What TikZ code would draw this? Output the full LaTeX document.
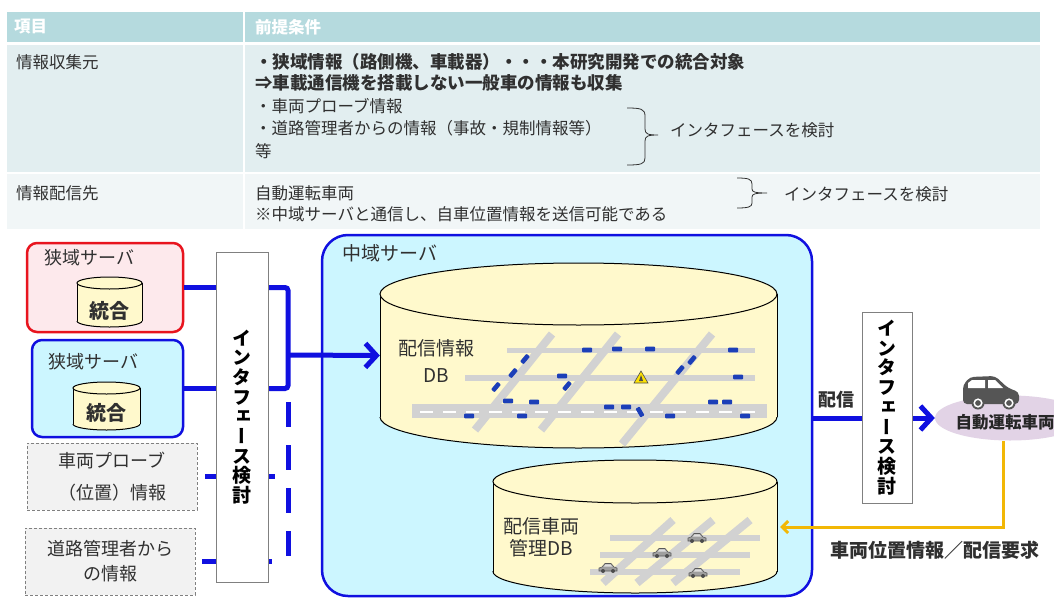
\documentclass[tikz,border=0pt]{standalone}
\usepackage{fontspec}
\setmainfont{Noto Sans CJK JP}
\newfontfamily\vjp[RawFeature=+vert]{Noto Sans CJK JP}
\usetikzlibrary{arrows.meta,shapes.geometric}

\definecolor{hdr}{HTML}{B5DADE}
\definecolor{rowa}{HTML}{E2EEF0}
\definecolor{rowb}{HTML}{F1F6F7}
\definecolor{txt}{HTML}{303030}
\definecolor{pinkfill}{HTML}{FDE9EC}
\definecolor{redline}{HTML}{E8141E}
\definecolor{cyanfill}{HTML}{CCF6FF}
\definecolor{blueline}{HTML}{1010E0}
\definecolor{dbfill}{HTML}{FFF9CC}
\definecolor{grayfill}{HTML}{F2F2F2}
\definecolor{road}{HTML}{D2D2D2}
\definecolor{carblue}{HTML}{1C3FB8}
\definecolor{gold}{HTML}{F2B705}
\definecolor{lav}{HTML}{E2D3E6}
\definecolor{cardark}{HTML}{555555}

\newcommand\fsA{\fontsize{16.5}{20}\selectfont}
\newcommand\fsB{\fontsize{17.5}{20}\selectfont}
\newcommand\fsC{\fontsize{18}{21}\selectfont}

% database cylinder: centre x, x radius, top y, bottom y, end radius
\newcommand\dbcyl[5]{%
  \fill[dbfill] (#1-#2,#3+#5) rectangle (#1+#2,#4-#5);
  \fill[dbfill] (#1,#4-#5) ellipse (#2 and #5);
  \begin{scope}
    \clip (#1-#2-3,#4-#5) rectangle (#1+#2+3,#4+3);
    \draw[line width=1] (#1,#4-#5) ellipse (#2 and #5);
  \end{scope}
  \draw[line width=1] (#1-#2,#3+#5) -- (#1-#2,#4-#5) (#1+#2,#3+#5) -- (#1+#2,#4-#5);
  \filldraw[fill=dbfill, line width=1] (#1,#3+#5) ellipse (#2 and #5);}

\tikzset{
  cell/.style={text=txt, anchor=west, inner sep=0, font=\fsA},
  hcell/.style={text=white, anchor=west, inner sep=0, font=\bfseries\fsA},
  srv/.style={rounded corners=10, line width=2.5, inner sep=0},
  lab/.style={text=txt, anchor=west, inner sep=0, font=\fsC},
  dbox/.style={draw=gray, fill=grayfill, dash pattern=on 3pt off 2pt, line width=0.8,
    inner sep=0, align=center, text=txt},
  ifbox/.style={draw=gray, fill=white, line width=0.8, inner sep=0, align=center,
    font=\vjp\bfseries\fontsize{19}{19.7}\selectfont},
  bl/.style={draw=blueline, line width=5},
  brk/.style={draw=txt, line width=0.8},
  bluecar/.pic={\fill[carblue, rounded corners=0.8] (-5,-2.3) rectangle (5,2.3);},
  minicar/.pic={
    \filldraw[fill=gray!75, draw=black!65, line width=0.6]
      (-9,3) -- (-9,0) -- (-6,-1) -- (-3,-4.5) -- (3,-4.5) -- (6,-1) -- (9,0) -- (9,3) -- cycle;
    \fill[white!75!gray] (-2.5,-3.6) -- (2.5,-3.6) -- (4.5,-1.3) -- (-4.5,-1.3) -- cycle;
    \fill[black!70] (-5,3) circle (2) (5,3) circle (2);
  },
}

\begin{document}
\begin{tikzpicture}[x=1pt,y=-1pt]
\useasboundingbox (0,0) rectangle (1054,597);
\fill[white] (0,0) rectangle (1054,597);

% ---------- conditions table ----------
\fill[hdr]  (7,12)   rectangle (243,42);
\fill[hdr]  (245,12) rectangle (1040,42);
\fill[rowa] (7,45)   rectangle (243,172);
\fill[rowa] (245,45) rectangle (1040,172);
\fill[rowb] (7,174)  rectangle (243,229);
\fill[rowb] (245,174) rectangle (1040,229);

\node[hcell] (h1) at (14,27)  {項目};
\node[hcell] (h2) at (255,27) {前提条件};

\node[cell] (r1a) at (16,62) {情報収集元};
\node[cell, font=\bfseries\fsB] (r1b) at (255,62) {・狭域情報（路側機、車載器）・・・本研究開発での統合対象};
\node[cell, font=\bfseries\fsB] (r1c) at (255,83) {⇒車載通信機を搭載しない一般車の情報も収集};
\node[cell] (r1d) at (255,106) {・車両プローブ情報};
\node[cell] (r1e) at (255,128) {・道路管理者からの情報（事故・規制情報等）};
\node[cell] (r1f) at (255,151) {等};
\node[cell] (r1g) at (670,130) {インタフェースを検討};

\node[cell] (r2a) at (16,193) {情報配信先};
\node[cell] (r2b) at (255,193) {自動運転車両};
\node[cell] (r2c) at (255,214) {※中域サーバと通信し、自車位置情報を送信可能である};
\node[cell] (r2d) at (784,194) {インタフェースを検討};

% curly brackets
\draw[brk] (627,108) .. controls (641,108) and (645,109) .. (645,116) -- (645,129)
  .. controls (645,134) and (648,135) .. (658,135)
  .. controls (648,135) and (645,136) .. (645,141) -- (645,158)
  .. controls (645,164) and (641,165) .. (627,165);
\draw[brk] (737,178) .. controls (748,178) and (752,179) .. (752,184) -- (752,189)
  .. controls (752,192) and (755,193) .. (767,193)
  .. controls (755,193) and (752,194) .. (752,197) -- (752,203)
  .. controls (752,207) and (748,208) .. (737,208);

% ---------- regional server ----------
\node[draw=blueline, fill=cyanfill, line width=2.5, rounded corners=26,
  minimum width=490, minimum height=361, inner sep=0] (srvM) at (567,415.5) {};
\node[lab, font=\fontsize{19}{21}\selectfont] (srvMlab) at (342,253) {中域サーバ};

% distribution information DB
\dbcyl{578.5}{198.5}{263}{448}{31}
\node[inner sep=0, minimum width=397, minimum height=185] (db1) at (578.5,355.5) {};
\node[text=txt, align=center, inner sep=0, font=\fontsize{19}{27}\selectfont] (db1lab) at (436,361.5) {配信情報\\DB};

% road map
\draw[road, line width=5] (507,350) -- (755,350);
\draw[road, line width=6] (465,378) -- (755,378);
\draw[road, line width=8] (552,334) -- (475,430);
\draw[road, line width=8] (618,334) -- (541,430);
\draw[road, line width=8] (712,334) -- (622,444);
\draw[road, line width=14] (412,411) -- (767,411);
\draw[white, line width=2, dash pattern=on 13pt off 10pt] (420,412) -- (765,412);
\foreach \x/\y in {587/350,617/349,650/349,733/350,562/376,738/377,
    508/401,534/402,609/407,626/407,713/402,727/402,469/416,522/416,670/416,745/416}
  \pic at (\x,\y) {bluecar};
\foreach \x/\y in {525/359,513/373,496/387,567/386,680/370,692/360}
  \pic[rotate=50] at (\x,\y) {bluecar};
\pic[rotate=-60] at (640,412) {bluecar};
\filldraw[fill=yellow!85!orange, draw=black!70, line width=0.6] (641,371) -- (648,383) -- (634,383) -- cycle;
\fill[black!70] (641,375) -- (643,381) -- (639,381) -- cycle;

% vehicle management DB
\dbcyl{635}{142}{460}{593}{21.5}
\node[text=txt, align=center, inner sep=0, font=\fontsize{19}{21.5}\selectfont] (db2lab) at (541,537.5) {配信車両\\管理DB};
\draw[road, line width=6.5] (610,538) -- (760,538);
\draw[road, line width=6.5] (600,555) -- (750,555);
\draw[road, line width=6.5] (590,572) -- (740,572);
\draw[road, line width=8] (673,520) -- (603,583);
\draw[road, line width=8] (713,520) -- (637,583);
\draw[road, line width=8] (750,520) -- (673,583);
\foreach \x/\y in {697/538,662/553,608/568,698/573}
  \pic at (\x,\y) {minicar};

% ---------- local servers and other sources ----------
\node[srv, draw=redline, fill=pinkfill, minimum width=156, minimum height=89] (srvA) at (105,287.5) {};
\node[lab] (srvAlab) at (44,258) {狭域サーバ};
\dbcyl{109.5}{32.5}{277}{327}{6}
\node[text=txt, inner sep=0, font=\bfseries\fontsize{20}{22}\selectfont] (cylA) at (109.5,311) {統合};

\node[srv, draw=blueline, fill=cyanfill, minimum width=151, minimum height=97] (srvB) at (107.5,388.5) {};
\node[lab] (srvBlab) at (48,362) {狭域サーバ};
\dbcyl{106.5}{33.5}{382}{430}{6}
\node[text=txt, inner sep=0, font=\bfseries\fontsize{20}{22}\selectfont] (cylB) at (106.5,413) {統合};

\node[dbox, minimum width=170, minimum height=67, font=\fontsize{18}{32}\selectfont] (probe) at (112,476.5) {車両プローブ\\（位置）情報};
\node[dbox, minimum width=170, minimum height=67, font=\fontsize{18}{25}\selectfont] (roadm) at (110,561.5) {道路管理者から\\の情報};

% ---------- connectors ----------
\coordinate (jn) at (288,355);
\draw[bl] (srvA.east) -- (srvA.east -| 230,0);
\draw[bl] (srvB.east) -- (srvB.east -| 230,0);
\draw[bl, rounded corners=3] (230,287.5) -| (jn) |- (230,388.5);
\draw[bl, shorten <=8] (probe.east) -- (275,476.5);
\draw[bl, shorten <=7] (roadm.east) -- (272,561.5);
\draw[bl, dash pattern=on 25pt off 18pt] (288,402) -- (288,560);

\node[ifbox, minimum width=52, minimum height=330] (ifL) at (242,417) {イ\\ン\\タ\\フ\\ェ\\ー\\ス\\検\\討};

\draw[bl, -{Straight Barb[length=11pt,width=24pt]}] (jn) -- (db1.west);

% ---------- delivery to the automated vehicle ----------
\node[ellipse, fill=lav, minimum width=150, minimum height=45, inner sep=0] (veh) at (1010,418) {};
\draw[bl, -{Straight Barb[length=11pt,width=24pt]}] (srvM.east |- veh.west) -- (veh.west);
\node[ifbox, minimum width=50, minimum height=191] (ifR) at (887,407.5) {イ\\ン\\タ\\フ\\ェ\\ー\\ス\\検\\討};
\node[text=txt, inner sep=0, font=\bfseries\fontsize{18}{20}\selectfont] (dlv) at (836,400) {配信};

% car icon
\fill[cardark, rounded corners=4] (963,404) -- (963,385) -- (970,377) -- (995,376) -- (1008,388) -- (1019,392) -- (1019,404) -- cycle;
\fill[white] (968,388) -- (968,383) -- (972,380) -- (985,380) -- (985,388) -- cycle;
\fill[white] (988,380) -- (995,380) -- (1003,388) -- (988,388) -- cycle;
\foreach \x in {978,1009} {
  \fill[cardark] (\x,403) circle (6.5);
  \draw[white, line width=1.5] (\x,403) circle (3.8);
}
\node[text=black!85, inner sep=0, font=\bfseries\fontsize{16.5}{18}\selectfont] (vehlab) at (1005,422) {自動運転車両};

\coordinate (vb) at (1003,441);
\coordinate (gtip) at (780,527);
\draw[gold, line width=3, -{Straight Barb[length=6pt,width=12pt]}] (vb) |- (gtip);
\node[text=txt, inner sep=0, font=\bfseries\fontsize{19}{21}\selectfont] (req) at (935,550) {車両位置情報／配信要求};
\end{tikzpicture}
\end{document}
